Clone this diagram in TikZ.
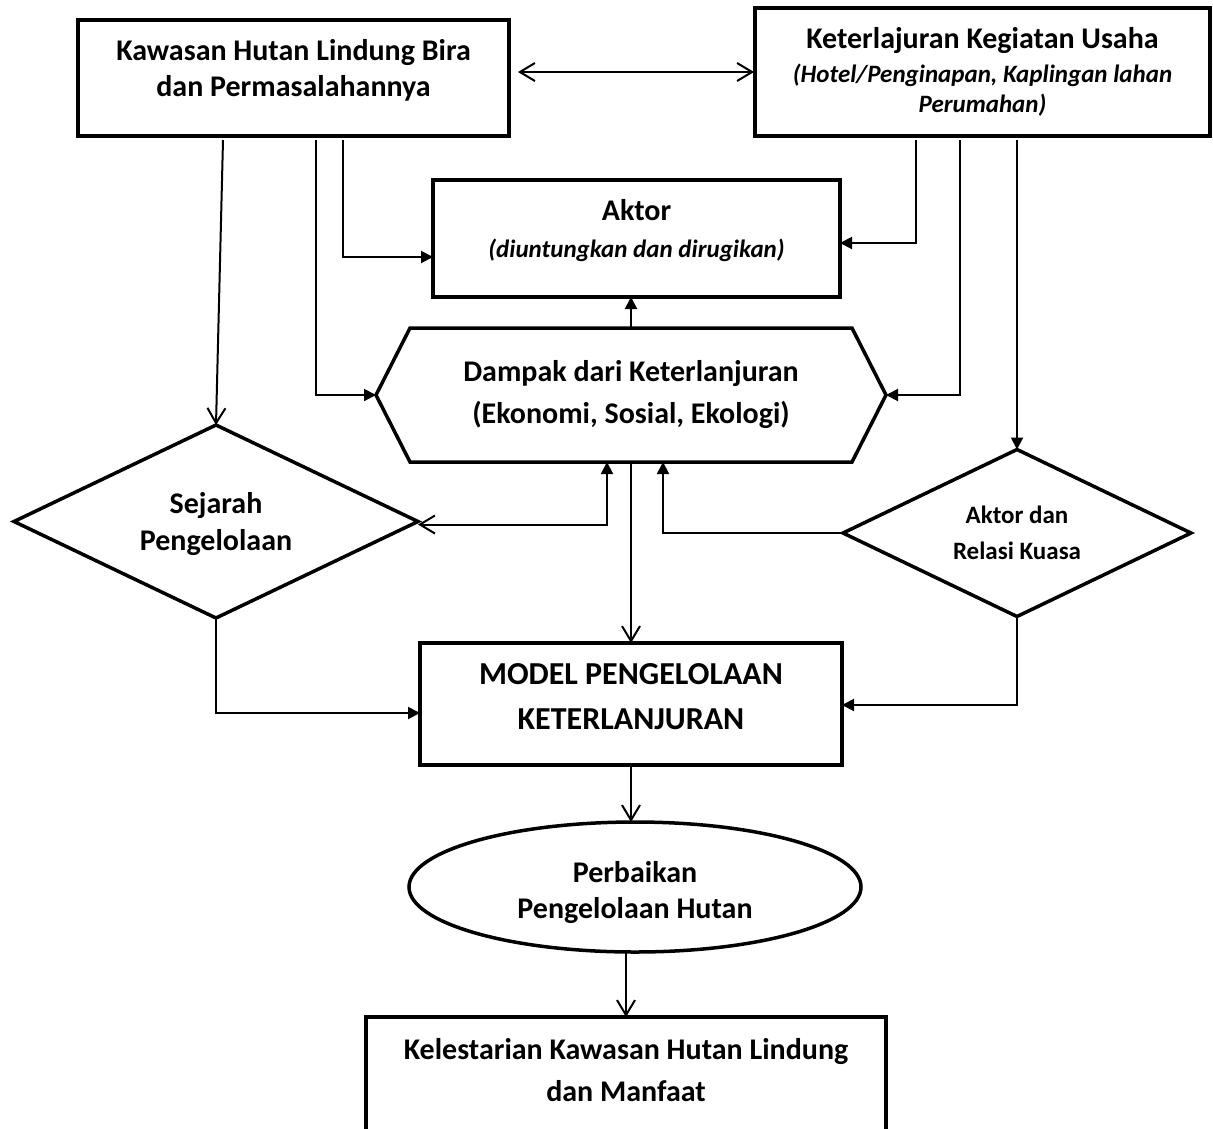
\documentclass[tikz,border=0pt]{standalone}
\usepackage{fontspec}
\setmainfont{Carlito}
\usetikzlibrary{arrows.meta,positioning,calc,shapes.geometric}
\newcommand{\fsBig}{\fontsize{30}{36}\selectfont\bfseries}
\newcommand{\fsSub}{\fontsize{25}{30}\selectfont\bfseries\itshape}
\newcommand{\dpad}[1]{\rule[-#1pt]{0pt}{#1pt}}
\newcommand{\hpad}[1]{\rule{0pt}{#1pt}}
\tikzset{
  frm/.style   ={draw=black,line width=3.5pt,fill=white,align=center,inner sep=0pt,
                 font=\fsBig,anchor=north west},
  hexlbl/.style={align=center,inner sep=0pt,font=\fsBig,anchor=north west},
  dmd/.style   ={frm,diamond,aspect=2.1,anchor=center},
  lnk/.style   ={draw=black,line width=2pt},
  tri/.style   ={lnk,-{Triangle[length=12pt,width=12pt]}},
  opn/.style   ={lnk,-{Straight Barb[length=15pt,width=18pt]}},
  opn2/.style  ={lnk,{Straight Barb[length=15pt,width=18pt]}-{Straight Barb[length=15pt,width=18pt]}},
  mix/.style   ={lnk,{Triangle[length=12pt,width=12pt]}-{Straight Barb[length=15pt,width=18pt]}},
}

\begin{document}
\begin{tikzpicture}[x=1pt,y=-1pt,every node/.style={outer sep=0pt}]
\useasboundingbox (0,0) rectangle (1213,1128);

% top row
\node[frm,minimum width=431pt,minimum height=116pt] (kaw) at (78,20)
  {Kawasan Hutan Lindung Bira\\dan Permasalahannya\dpad{20}};
\node[frm,minimum width=455pt,minimum height=128pt] (ket) at (755,8)
  {Keterlajuran Kegiatan Usaha\\[-2pt]{\fsSub (Hotel/Penginapan, Kaplingan lahan}\\[-6pt]{\fsSub Perumahan)}};

% middle
\node[frm,minimum width=407pt,minimum height=117pt] (akt) at (433,180)
  {Aktor\\[1pt]{\fsSub (diuntungkan dan dirugikan)\dpad{20}}};
\node[hexlbl,minimum width=510pt,minimum height=134pt] (dmp) at (376,328)
  {Dampak dari Keterlanjuran\\[6pt](Ekonomi, Sosial, Ekologi)};
\draw[line width=3.5pt] (dmp.west) -- ($(dmp.north west)+(34,0)$) -- ($(dmp.north east)+(-34,0)$)
  -- (dmp.east) -- ($(dmp.south east)+(-34,0)$) -- ($(dmp.south west)+(34,0)$) -- cycle;
\node[dmd,minimum width=404pt,minimum height=193pt] (sej) at (216,521.5)
  {\hpad{27}Sejarah\\[1pt]Pengelolaan};
\node[dmd,minimum width=348pt,minimum height=167pt,font=\fontsize{25}{36}\selectfont\bfseries] (rel) at (1017,533)
  {Aktor dan\\Relasi Kuasa};

% bottom
\node[frm,minimum width=422pt,minimum height=122pt,font=\fontsize{32}{45}\selectfont\bfseries] (mdl) at (420,643)
  {MODEL PENGELOLAAN\\KETERLANJURAN\dpad{16}};
\node[frm,ellipse,anchor=center,minimum width=452pt,minimum height=130pt] (prb) at (635,887)
  {\hpad{33}Perbaikan\\Pengelolaan Hutan};
\node[frm,minimum width=520pt,minimum height=123pt] (kel) at (366,1017)
  {Kelestarian Kawasan Hutan Lindung\\[6pt]dan Manfaat\dpad{17}};

% connectors
\draw[opn2] ($(kaw.east)+(9,-6)$) -- ($(ket.west)+(-1,0)$);
\draw[opn] ($(kaw.south)+(-70.5,4)$) -- (sej.north);
\draw[tri] ($(kaw.south)+(22.5,4)$) |- (dmp.west);
\draw[tri] ($(kaw.south)+(49.5,4)$) |- ($(akt.west)+(0,18.5)$);
\draw[tri] ($(ket.south)+(-66.5,4)$) |- ($(akt.east)+(0,4.5)$);
\draw[tri] ($(ket.south)+(-22.5,4)$) |- (dmp.east);
\draw[tri] ($(ket.south)+(34.5,4)$) -- (rel.north);
\draw[tri] (dmp.north) -- (dmp.north |- akt.south);
\draw[mix] ($(dmp.south)+(-24,0)$) |- ($(sej.east)+(0,3)$);
\draw[opn] (dmp.south) -- (mdl.north);
\draw[tri] (rel.west) -| ($(dmp.south)+(32,0)$);
\draw[tri] (sej.south) |- ($(mdl.west)+(0,9)$);
\draw[tri] (rel.south) |- ($(mdl.east)+(0,1)$);
\draw[opn] (mdl.south) -- (mdl.south |- prb.north);
\draw[opn] (kel.north |- prb.south) -- (kel.north);
\end{tikzpicture}
\end{document}
